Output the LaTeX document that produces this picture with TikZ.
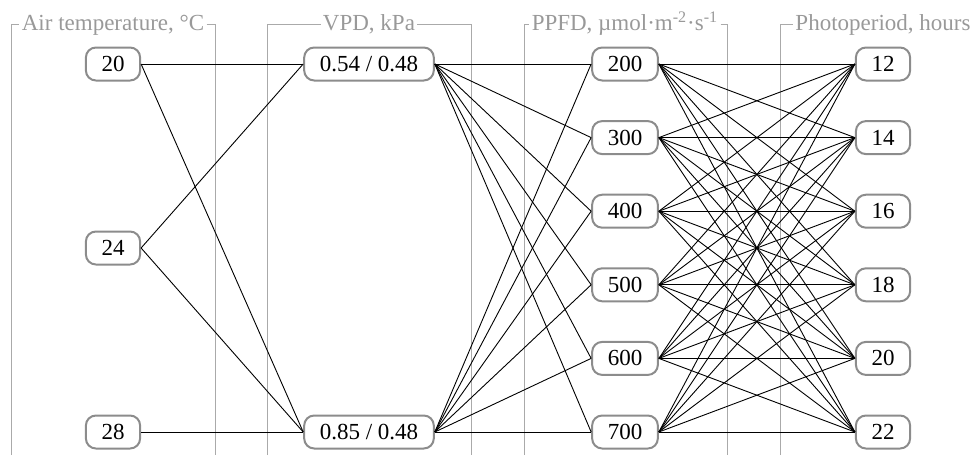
\documentclass[tikz,border=0pt]{standalone}
\usepackage{fontspec}
\setmainfont{Liberation Serif}
\newfontfamily\labelfont{Liberation Serif}
\definecolor{boxgray}{HTML}{8C8C8C}
\definecolor{rulegray}{HTML}{AAAAAA}
\definecolor{hdrgray}{HTML}{999999}
\begin{document}
\begin{tikzpicture}[x=0.5pt,y=-0.5pt,
  val/.style={draw=boxgray, line width=1pt, rounded corners=5pt,
    inner xsep=7.8pt, inner ysep=0pt, minimum height=16.5pt,
    fill=white, font=\labelfont\fontsize{11.5}{13}\selectfont},
  hdr/.style={text=hdrgray, anchor=base, inner xsep=1pt, inner ysep=0pt,
    font=\labelfont\fontsize{11.5}{13}\selectfont},
  bracket/.style={draw=rulegray, line width=0.5pt},
  link/.style={draw=black, line width=0.45pt}]
\useasboundingbox (0,0) rectangle (974,455);

% level of the bracket tops
\coordinate (hy) at (0,24.5);

% group headers
\node[hdr] (h1) at (113,31) {Air temperature, °C};
\node[hdr] (h2) at (369,31) {VPD, kPa};
\node[hdr] (h3) at (625,31) {PPFD, µmol·m\textsuperscript{-2}·s\textsuperscript{-1}};
\node[hdr] (h4) at (883,31) {Photoperiod, hours};

% bracket corners
\coordinate (b1l) at (11,455);  \coordinate (b1r) at (215,455);
\coordinate (b2l) at (267,455); \coordinate (b2r) at (471,455);
\coordinate (b3l) at (524,455); \coordinate (b3r) at (727,455);
\coordinate (b4l) at (780,455);

\draw[bracket] (b1l) |- (h1.west |- hy);
\draw[bracket] (h1.east |- hy) -| (b1r);
\draw[bracket] (b2l) |- (h2.west |- hy);
\draw[bracket] (h2.east |- hy) -| (b2r);
\draw[bracket] (b3l) |- (h3.west |- hy);
\draw[bracket] (h3.east |- hy) -| (b3r);
\draw[bracket] (b4l) |- (h4.west |- hy);

% air temperature
\node[val] (t20) at (113,64)  {20};
\node[val] (t24) at (113,248) {24};
\node[val] (t28) at (113,432) {28};

% VPD
\node[val] (v1) at (369,64)  {0.54 / 0.48};
\node[val] (v2) at (369,432) {0.85 / 0.48};

% PPFD
\node[val] (p200) at (625,64)    {200};
\node[val] (p300) at (625,137.6) {300};
\node[val] (p400) at (625,211.2) {400};
\node[val] (p500) at (625,284.8) {500};
\node[val] (p600) at (625,358.4) {600};
\node[val] (p700) at (625,432)   {700};

% photoperiod
\node[val] (d12) at (883,64)    {12};
\node[val] (d14) at (883,137.6) {14};
\node[val] (d16) at (883,211.2) {16};
\node[val] (d18) at (883,284.8) {18};
\node[val] (d20) at (883,358.4) {20};
\node[val] (d22) at (883,432)   {22};

% connections
\foreach \a in {t20,t24}
  \foreach \b in {v1,v2}
    \draw[link] (\a.east) -- (\b.west);
\draw[link] (t28.east) -- (v2.west);
\foreach \a in {v1,v2}
  \foreach \b in {p200,p300,p400,p500,p600,p700}
    \draw[link] (\a.east) -- (\b.west);
\foreach \a in {p200,p300,p400,p500,p600,p700}
  \foreach \b in {d12,d14,d16,d18,d20,d22}
    \draw[link] (\a.east) -- (\b.west);
\end{tikzpicture}
\end{document}
